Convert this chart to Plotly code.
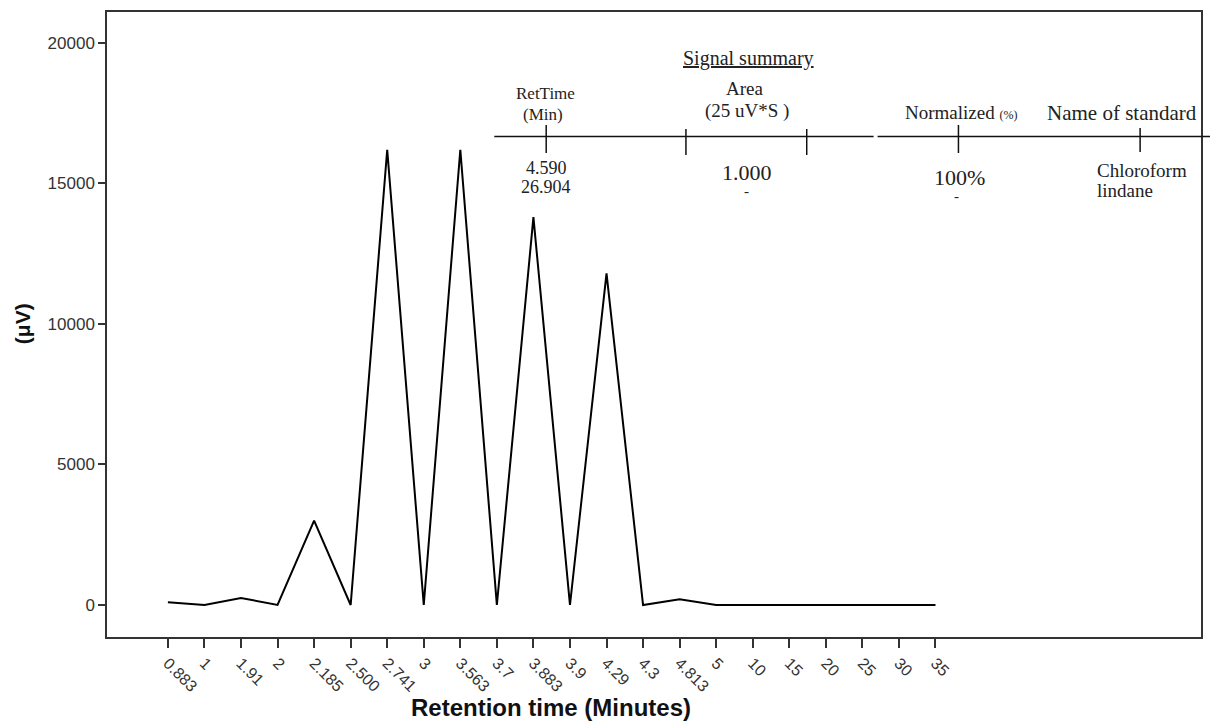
import plotly.graph_objects as go

# ---- data ----
categories = ["0.883", "1", "1.91", "2", "2.185", "2.500", "2.741", "3", "3.563", "3.7",
              "3.883", "3.9", "4.29", "4.3", "4.813", "5", "10", "15", "20", "25", "30", "35"]
signal_uv = [100, 0, 250, 0, 3000, 0, 16200, 0, 16200, 0,
             13800, 0, 11800, 0, 200, 0, 0, 0, 0, 0, 0, 0]
y_ticks = [0, 5000, 10000, 15000, 20000]

table_title = "Signal summary"
ret_header = ["RetTime", "(Min)"]
area_header = ["Area", "(25 uV*S )"]
norm_header = "Normalized"
name_header = "Name of standard"
ret_times = ["4.590", "26.904"]
areas = ["1.000", "-"]
normalized = ["100%", "-"]
standards = ["Chloroform", "lindane"]

# ---- layout geometry (pixels) ----
W, H = 1213, 722
X0, X1, Y0, Y1 = 107, 1203, 12, 637


def px(x):
    return (x - X0) / (X1 - X0)


def py(y):
    return (Y1 - y) / (Y1 - Y0)


fig = go.Figure()
fig.add_trace(go.Scatter(x=categories, y=signal_uv, mode="lines",
                         line=dict(color="black", width=2), showlegend=False,
                         hoverinfo="x+y"))

axis_col = "#333333"
sans = "Liberation Sans, Arial, sans-serif"

fig.update_layout(
    width=W, height=H,
    margin=dict(l=X0, r=W - X1, t=Y0, b=H - Y1),
    paper_bgcolor="white", plot_bgcolor="white",
    xaxis=dict(type="category", range=[-1.666, 28.264], showgrid=False, zeroline=False,
               showline=True, mirror=True, linecolor=axis_col, linewidth=1.5,
               ticks="outside", ticklen=9, tickwidth=1.5, tickcolor=axis_col,
               tickangle=45, tickfont=dict(family=sans, size=16, color="#333333")),
    yaxis=dict(range=[-1139, 21103], showgrid=False, zeroline=False,
               showline=True, mirror=True, linecolor=axis_col, linewidth=1.5,
               ticks="outside", ticklen=7, tickwidth=1.5, tickcolor=axis_col,
               tickvals=y_ticks, ticktext=[str(v) for v in y_ticks],
               tickfont=dict(family=sans, size=17, color="#333333")),
)

ann = []
# axis titles
ann.append(dict(text="<b>Retention time (Minutes)</b>", x=px(552), y=py(707), xref="paper", yref="paper",
                showarrow=False, xanchor="center", yanchor="middle",
                font=dict(family=sans, size=24, color="#111111")))
ann.append(dict(text="<b>(μV)</b>", x=px(22), y=py(324), xref="paper", yref="paper",
                showarrow=False, xanchor="center", yanchor="middle", textangle=-90,
                font=dict(family=sans, size=21, color="#111111")))

serif = "Liberation Serif, Times New Roman, serif"
tc = "#222222"


def t(text, x, y, size=15, xa="center"):
    ann.append(dict(text=text, x=px(x), y=py(y), xref="paper", yref="paper", showarrow=False,
                    xanchor=xa, yanchor="middle", font=dict(family=serif, size=size, color=tc)))


t("<u>" + table_title + "</u>", 750, 58, 20)
t(ret_header[0], 546, 94, 17)
t(ret_header[1], 544, 114, 17)
t(area_header[0], 746, 88, 19)
t(area_header[1], 748, 111, 19)
t(norm_header + " <span style='font-size:12px'>(%)</span>", 963, 112, 19)
t(name_header, 1124, 113, 21)
t(ret_times[0], 547, 168, 18)
t(ret_times[1], 547, 187, 18)
t(areas[0], 748, 172, 22)
t(areas[1], 748, 191, 15)
t(normalized[0], 961, 177, 22)
t(normalized[1], 958, 196, 15)
t(standards[0], 1097, 170, 19, "left")
t(standards[1], 1097, 190, 19, "left")

fig.update_layout(annotations=ann)

shapes = []


def seg(xa, ya, xb, yb, w=1.5):
    shapes.append(dict(type="line", xref="paper", yref="paper",
                       x0=px(xa), y0=py(ya), x1=px(xb), y1=py(yb),
                       line=dict(color="#111111", width=w)))


seg(495, 136.5, 875, 136.5)
seg(879, 136.5, 1212, 136.5)
for xx, ya, yb in [(547, 125, 153), (687, 129, 155), (808, 129, 155), (960, 125, 153), (1142, 128, 152)]:
    seg(xx, ya, xx, yb)

fig.update_layout(shapes=shapes)

fig.write_html("out.html")
